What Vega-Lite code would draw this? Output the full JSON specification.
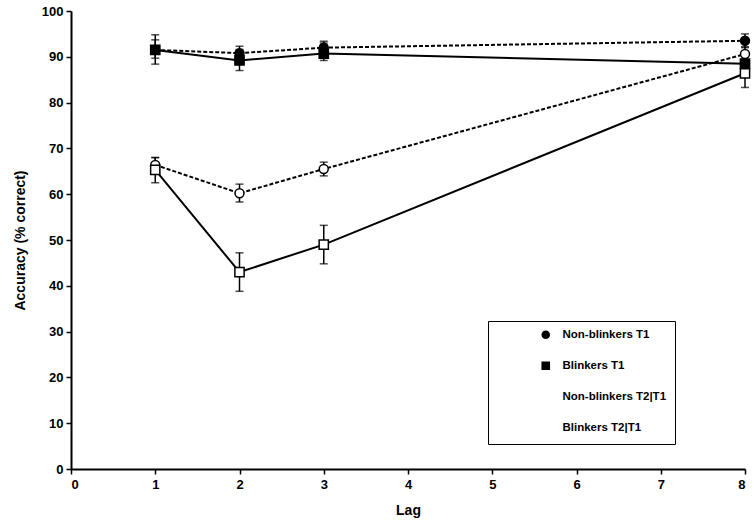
{
  "$schema": "https://vega.github.io/schema/vega-lite/v6.json",
  "width": 674,
  "height": 458,
  "autosize": "none",
  "padding": {"left": 71, "top": 11, "right": 9, "bottom": 51},
  "background": "white",
  "config": {
    "view": {"stroke": null},
    "font": "Liberation Sans",
    "axis": {
      "labelFont": "Liberation Sans", "labelFontWeight": "bold", "labelFontSize": 13, "labelColor": "black",
      "titleFont": "Liberation Sans", "titleFontWeight": "bold", "titleFontSize": 14, "titleColor": "black",
      "domainColor": "black", "domainWidth": 2, "tickColor": "black", "tickWidth": 1.5, "tickSize": 5, "grid": false
    }
  },
  "data": {
    "values": [
      {"series": "Non-blinkers T1", "lag": 1, "acc": 91.5, "lo": 89.7, "hi": 93.7},
      {"series": "Non-blinkers T1", "lag": 2, "acc": 90.8, "lo": 89.5, "hi": 92.3},
      {"series": "Non-blinkers T1", "lag": 3, "acc": 92.0, "lo": 90.6, "hi": 93.4},
      {"series": "Non-blinkers T1", "lag": 8, "acc": 93.5, "lo": 92.0, "hi": 95.0},
      {"series": "Blinkers T1", "lag": 1, "acc": 91.5, "lo": 88.4, "hi": 94.8},
      {"series": "Blinkers T1", "lag": 2, "acc": 89.2, "lo": 87.0, "hi": 91.6},
      {"series": "Blinkers T1", "lag": 3, "acc": 90.7, "lo": 89.2, "hi": 93.0},
      {"series": "Blinkers T1", "lag": 8, "acc": 88.5, "lo": 86.8, "hi": 90.2},
      {"series": "Non-blinkers T2|T1", "lag": 1, "acc": 66.4, "lo": 65.0, "hi": 68.0},
      {"series": "Non-blinkers T2|T1", "lag": 2, "acc": 60.2, "lo": 58.3, "hi": 62.2},
      {"series": "Non-blinkers T2|T1", "lag": 3, "acc": 65.5, "lo": 64.0, "hi": 67.0},
      {"series": "Non-blinkers T2|T1", "lag": 8, "acc": 90.6, "lo": 89.0, "hi": 92.2},
      {"series": "Blinkers T2|T1", "lag": 1, "acc": 65.3, "lo": 62.5, "hi": 68.0},
      {"series": "Blinkers T2|T1", "lag": 2, "acc": 43.0, "lo": 38.8, "hi": 47.2},
      {"series": "Blinkers T2|T1", "lag": 3, "acc": 49.0, "lo": 44.8, "hi": 53.2},
      {"series": "Blinkers T2|T1", "lag": 8, "acc": 86.4, "lo": 83.3, "hi": 89.3}
    ]
  },
  "layer": [
    {
      "mark": {"type": "errorbar", "ticks": {"size": 8, "thickness": 1.5, "color": "black"}, "rule": {"strokeWidth": 1.5, "color": "black"}},
      "encoding": {
        "x": {"field": "lag", "type": "quantitative", "scale": {"domain": [0, 8]}, "axis": {"title": "Lag", "values": [0,1,2,3,4,5,6,7,8], "format": "d", "titlePadding": 12, "labelPadding": 4}},
        "y": {"field": "lo", "type": "quantitative", "scale": {"domain": [0, 100]}, "axis": {"title": "Accuracy (% correct)", "values": [0,10,20,30,40,50,60,70,80,90,100], "format": "d", "titlePadding": 14, "labelPadding": 3}},
        "y2": {"field": "hi"},
        "detail": {"field": "series"}
      }
    },
    {
      "transform": [{"filter": "indexof(datum.series, 'Non-blinkers') == 0"}],
      "mark": {"type": "line", "color": "black", "strokeWidth": 2, "strokeDash": [4, 2]},
      "encoding": {
        "x": {"field": "lag", "type": "quantitative"},
        "y": {"field": "acc", "type": "quantitative"},
        "detail": {"field": "series"}
      }
    },
    {
      "transform": [{"filter": "indexof(datum.series, 'Blinkers') == 0"}],
      "mark": {"type": "line", "color": "black", "strokeWidth": 2},
      "encoding": {
        "x": {"field": "lag", "type": "quantitative"},
        "y": {"field": "acc", "type": "quantitative"},
        "detail": {"field": "series"}
      }
    },
    {
      "transform": [{"filter": "datum.series == 'Non-blinkers T1'"}],
      "mark": {"type": "point", "shape": "circle", "filled": true, "fill": "black", "stroke": "black", "strokeWidth": 1.5, "size": 80, "opacity": 1},
      "encoding": {"x": {"field": "lag", "type": "quantitative"}, "y": {"field": "acc", "type": "quantitative"}}
    },
    {
      "transform": [{"filter": "datum.series == 'Non-blinkers T2|T1'"}],
      "mark": {"type": "point", "shape": "circle", "filled": true, "fill": "white", "stroke": "black", "strokeWidth": 1.5, "size": 80, "opacity": 1},
      "encoding": {"x": {"field": "lag", "type": "quantitative"}, "y": {"field": "acc", "type": "quantitative"}}
    },
    {
      "transform": [{"filter": "datum.series == 'Blinkers T1'"}],
      "mark": {"type": "point", "shape": "square", "filled": true, "fill": "black", "stroke": "black", "strokeWidth": 1.5, "size": 85, "opacity": 1},
      "encoding": {"x": {"field": "lag", "type": "quantitative"}, "y": {"field": "acc", "type": "quantitative"}}
    },
    {
      "transform": [{"filter": "datum.series == 'Blinkers T2|T1'"}],
      "mark": {"type": "point", "shape": "square", "filled": true, "fill": "white", "stroke": "black", "strokeWidth": 1.5, "size": 85, "opacity": 1},
      "encoding": {"x": {"field": "lag", "type": "quantitative"}, "y": {"field": "acc", "type": "quantitative"}}
    },
    {
      "mark": {"type": "point", "filled": false, "stroke": "black", "strokeWidth": 1.5, "size": 74, "opacity": 0},
      "encoding": {
        "x": {"field": "lag", "type": "quantitative"},
        "y": {"field": "acc", "type": "quantitative"},
        "fill": {
          "field": "series", "type": "nominal",
          "scale": {"domain": ["Non-blinkers T1", "Blinkers T1", "Non-blinkers T2|T1", "Blinkers T2|T1"], "range": ["black", "black", "white", "white"]}
        },
        "shape": {
          "field": "series", "type": "nominal",
          "scale": {
            "domain": ["Non-blinkers T1", "Blinkers T1", "Non-blinkers T2|T1", "Blinkers T2|T1"],
            "range": [
              "M-3.8,0H-3.2M-2.8,0H-2.2M-1.8,0H-1.2M1.2,0H1.8M2.2,0H2.8M3.2,0H3.8M-1,0A1,1 0 1,1 1,0A1,1 0 1,1 -1,0Z",
              "M-3.8,0H-1M1,0H3.8M-1,-1H1V1H-1Z",
              "M-3.8,0H-3.2M-2.8,0H-2.2M-1.8,0H-1.2M1.2,0H1.8M2.2,0H2.8M3.2,0H3.8M-1,0A1,1 0 1,1 1,0A1,1 0 1,1 -1,0Z",
              "M-3.8,0H-1M1,0H3.8M-1,-1H1V1H-1Z"
            ]
          },
          "legend": {
            "title": null,
            "orient": "none",
            "legendX": 417,
            "legendY": 310,
            "strokeColor": "black",
            "fillColor": "white",
            "padding": 8,
            "cornerRadius": 0,
            "symbolOffset": 44,
            "symbolSize": 74,
            "symbolStrokeColor": "black",
            "symbolStrokeWidth": 1.5,
            "symbolOpacity": 1,
            "labelOffset": 11,
            "labelFont": "Liberation Sans",
            "labelFontWeight": "bold",
            "labelFontSize": 11.5,
            "labelColor": "black",
            "labelLimit": 110,
            "rowPadding": 15
          }
        }
      }
    }
  ]
}
